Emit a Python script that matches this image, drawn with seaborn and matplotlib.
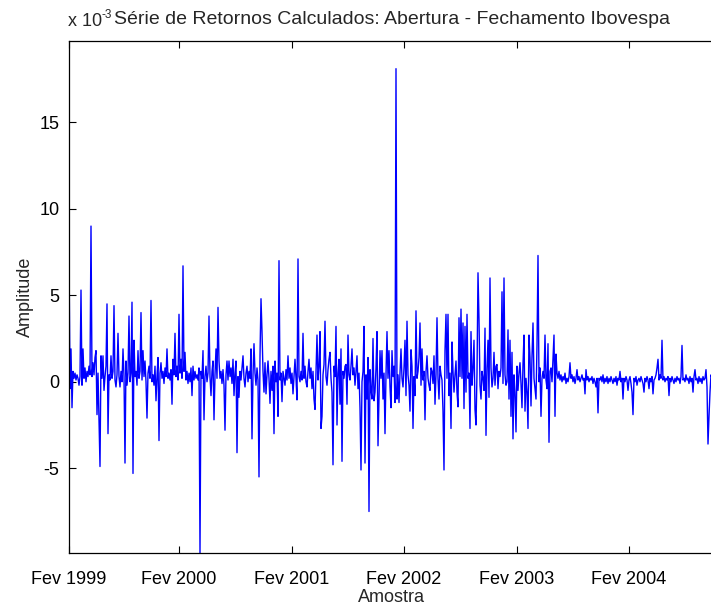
import matplotlib
matplotlib.use("Agg")
import matplotlib.pyplot as plt
import numpy as np
import pandas as pd
import seaborn as sns

# Daily open-to-close returns of the Ibovespa (x 1e-3), Feb 1999 - late 2004
retornos = [
    7.6, -0.4, 1.9, -1.5, 0.6, 0.2, 0.5, 0.1, 0.4, 0.2,
    -0.2, 0.3, 5.3, -0.2, 1.9, 0.2, 0.8, 0.0, 0.6, 0.3,
    0.9, 0.4, 9.0, 0.3, 1.1, 0.4, 1.4, 1.8, -1.9, 0.5,
    -2.3, -4.9, 1.5, 0.2, 1.5, -0.5, 0.3, 0.9, 4.5, -3.0,
    0.4, 0.1, 1.5, 0.2, 0.6, 4.4, 0.1, -0.3, 0.4, 2.8,
    0.3, -0.3, 0.6, 0.0, 1.9, 0.3, -4.7, 1.2, -0.2, 0.5,
    3.8, 0.0, 0.5, 4.6, -5.3, 2.4, 0.3, 0.6, -0.2, 1.8,
    0.2, 0.6, 4.0, 0.1, 1.8, 0.3, 1.2, 0.0, -2.1, 0.5,
    0.9, 0.2, 4.7, 0.0, 0.4, -0.2, 0.9, -1.1, 0.3, 1.4,
    -3.4, 0.5, 1.1, 0.2, 0.6, -0.1, 0.8, 0.3, 1.9, 0.2,
    0.5, 0.1, 0.7, -1.3, 1.3, 0.4, 2.8, 0.3, 0.9, 0.1,
    3.9, 0.5, 1.3, 0.2, 6.7, 0.6, 1.7, 0.1, 0.6, -0.1,
    0.5, 0.0, 0.8, -0.8, 0.9, 0.1, 0.6, 0.2, 0.4, 0.1,
    0.8, -9.9, 0.6, 0.2, 1.8, -2.2, 0.3, 0.9, 0.0, 0.5,
    3.8, 0.3, -0.8, 0.6, 1.2, -2.2, 0.4, 1.9, 0.2, 4.3,
    1.2, 0.2, 0.6, -0.1, 0.7, -0.2, -2.8, 0.4, 1.2, 0.1,
    1.2, 0.3, 0.8, -0.1, 1.3, -0.8, 0.5, 1.2, -4.1, 0.3,
    -0.9, 0.6, 0.1, 0.8, 1.5, 0.2, -0.3, 0.5, 0.9, 0.0,
    0.6, 0.2, 1.9, -3.3, 0.4, 2.2, 0.5, -0.2, 0.8, 0.1,
    -5.5, 1.5, 4.8, 2.9, 0.6, -0.6, 1.1, -0.7, 0.4, 1.2,
    0.2, -1.25, 0.6, -0.5, 0.9, -3.0, 1.2, 0.0, 0.5, -2.0,
    7.0, 0.1, 0.5, -1.15, 0.6, 0.2, -0.2, 0.7, 0.1, 1.5,
    0.2, 0.8, -0.1, 0.5, -0.7, 0.3, 1.3, 0.2, -1.05, 7.1,
    0.3, 0.0, 0.6, 0.1, 2.8, 0.2, 0.9, 0.0, -0.3, 0.6,
    1.3, 0.2, 0.8, -0.4, 0.6, -1.0, -1.6, 0.5, 2.7, 0.1,
    0.9, 2.9, -2.7, -2.0, 0.4, 1.0, 3.5, 0.3, -0.2, 0.7,
    1.3, 1.7, 0.2, -0.6, -4.8, 0.9, 0.3, 3.2, -2.5, 0.5,
    1.3, -1.3, 1.9, -4.6, 0.6, 0.2, 0.9, 1.0, -1.3, 2.7,
    0.4, 0.1, 0.9, 1.9, 0.4, 0.8, -0.2, 0.6, 1.5, -0.4,
    0.5, -1.5, -5.1, 0.0, 0.6, 3.2, -4.7, 0.4, -1.0, 1.4,
    -7.5, 0.7, -0.5, -1.0, 2.5, -1.1, -0.6, 0.8, 2.9, -3.7,
    -1.0, 1.8, 0.2, 1.8, -1.0, 0.5, -3.0, 0.4, 2.9, 0.2,
    1.8, -0.3, -1.5, 1.8, 0.3, 0.9, -1.2, 18.1, -1.0, 0.4,
    -1.2, 0.5, 1.9, 0.2, -0.3, 0.8, 2.4, -0.8, 3.5, 0.4,
    -0.2, -1.7, 1.85, 0.9, -2.7, 0.3, -0.8, 4.1, 0.2, 0.6,
    1.4, 3.4, -0.2, 1.9, 0.1, 0.6, -2.2, 0.6, 1.5, 0.2,
    -0.2, -0.5, 0.8, 0.6, -0.1, 1.5, -1.3, 0.4, 3.7, 0.2,
    -1.0, 0.9, 0.4, 0.1, -1.7, -5.1, 1.8, 3.9, 0.2, 3.9,
    -0.8, 0.5, -2.7, 2.3, 0.6, -0.6, 0.4, 1.2, -0.6, -1.45,
    3.7, 0.3, 4.2, 0.2, 3.4, -1.55, 3.2, -0.6, 3.9, 0.2,
    0.5, -2.7, 2.9, -0.2, 0.8, 2.4, -1.6, -2.5, 0.5, 6.3,
    3.6, -0.2, -1.0, 0.6, 0.2, -0.5, 3.1, -3.1, 0.8, 2.4,
    -0.9, 6.0, 0.8, -0.3, 0.2, 1.7, -0.2, 0.9, 1.0, -0.4,
    0.6, 0.3, 0.8, 5.2, -0.1, 6.0, 0.4, -0.2, 0.0, 3.0,
    -1.0, 2.4, -2.0, 1.7, -3.3, 0.4, -0.6, -2.9, 0.9, -0.5,
    0.5, 1.1, -0.1, -1.5, 1.0, 2.7, -1.7, 0.2, -0.6, -2.7,
    2.7, 1.4, -1.4, 1.5, 3.4, 0.2, -0.4, -1.0, 2.1, 7.3,
    0.0, 0.8, -2.0, 0.2, 0.6, 0.2, 2.7, 0.1, -0.4, 2.2,
    -3.5, 0.6, 0.8, 0.0, 1.3, 2.7, -2.0, 1.6, 0.5, 0.2,
    0.6, 0.1, 0.4, 0.0, 0.3, 0.1, 0.5, -0.1, 0.2, 0.0,
    0.3, 1.1, 0.2, 0.4, 0.0, 0.3, -0.1, 0.2, 0.7, 0.1,
    0.3, 0.0, 0.2, 0.4, 0.1, 0.2, -0.7, 0.7, 0.1, 0.3,
    0.0, 0.2, 0.1, 0.3, -0.1, 0.2, 0.0, -0.3, 0.2, -1.8,
    0.2, 0.1, 0.3, 0.0, 0.4, -0.1, 0.2, 0.0, 0.3, -0.1,
    0.2, 0.0, 0.3, 0.1, -0.1, 0.2, 0.0, 0.3, -0.2, 0.2,
    0.1, 0.6, 0.0, 0.2, -1.0, 0.2, 0.0, 0.3, 0.1, -0.5,
    0.1, 0.3, -0.1, -0.6, -1.9, 0.2, 0.0, 0.3, -0.2, 0.1,
    0.2, 0.0, 0.3, 0.1, -0.1, -0.6, 0.2, 0.0, 0.3, 0.1,
    -0.4, 0.2, 0.0, 0.3, -0.7, 0.1, 0.2, 0.4, 0.8, 1.3,
    0.1, 0.4, 0.2, 2.4, 0.1, 0.3, 0.0, 0.2, 0.1, 0.3,
    -0.8, 0.2, 0.0, 0.3, 0.1, -0.1, 0.2, 0.0, 0.3, 0.1,
    0.2, -0.1, 0.3, 2.1, 0.1, 0.2, 0.0, 0.4, 0.1, 0.2,
    -0.1, 0.3, 0.0, 0.2, -0.6, 0.3, 0.7, 0.1, 0.2, -0.1,
    0.3, 0.0, 0.2, -0.1, 0.3, 0.1, 0.2, 0.7, -0.3, -3.6,
    -2.0, -0.6, 0.4, 0.2,
]

# Sample positions of the first trading day of each February
tick_pos = [0, 110, 223, 335, 448, 560]
tick_labels = ["Fev 1999", "Fev 2000", "Fev 2001", "Fev 2002", "Fev 2003", "Fev 2004"]
ytick_vals = [-5, 0, 5, 10, 15]

df = pd.DataFrame({"amostra": np.arange(len(retornos)), "amplitude": retornos})

sns.set_style("white")
plt.rcParams["font.family"] = ["Liberation Sans", "DejaVu Sans"]

W, H = 711, 605
fig = plt.figure(figsize=(W / 100, H / 100), dpi=100)
ax_left, ax_top, ax_bottom = 69, 41, 553
x_max = 645
ax = fig.add_axes([ax_left / W, (H - ax_bottom) / H,
                   x_max / W, (ax_bottom - ax_top) / H])

sns.lineplot(data=df, x="amostra", y="amplitude", ax=ax,
             color="#0000ff", linewidth=1.0, estimator=None)

ax.set_xlim(0, x_max)
ax.set_ylim(min(retornos), 19.7)
ax.set_xticks(tick_pos)
ax.set_xticklabels(tick_labels)
ax.set_yticks(ytick_vals)
ax.set_yticklabels([str(v) for v in ytick_vals])

fs = 13
ax.tick_params(axis="both", direction="in", length=5, width=0.8,
               colors="black", labelsize=fs)
ax.tick_params(axis="x", top=True, bottom=True, pad=13)
ax.tick_params(axis="y", left=True, right=False, pad=7)
for sp in ax.spines.values():
    sp.set_color("black")
    sp.set_linewidth(0.9)

ax.set_xlabel("Amostra", fontsize=fs, labelpad=1)
ax.set_ylabel("Amplitude", fontsize=fs, labelpad=4)

# Scale factor above the y axis, followed by the title
fig.text(68 / W, 1 - 22 / H, "x 10", fontsize=fs, ha="left", va="center")
fig.text(102 / W, 1 - 15 / H, "-3", fontsize=8.5, ha="left", va="center")
fig.text(114 / W, 1 - 20 / H,
         "Série de Retornos Calculados: Abertura - Fechamento Ibovespa",
         fontsize=14, ha="left", va="center")

fig.savefig("out.png", dpi=100)
